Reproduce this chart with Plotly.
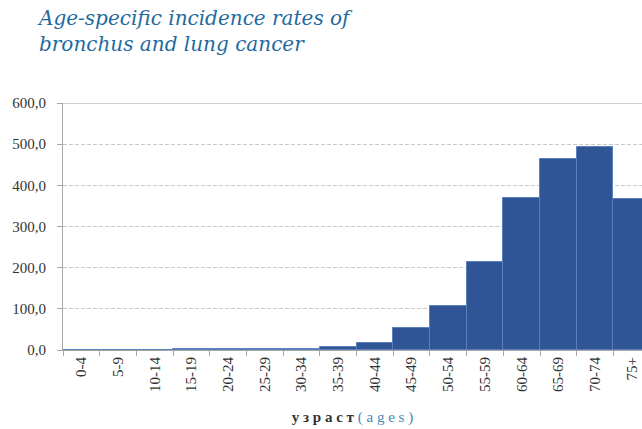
import plotly.graph_objects as go

categories = ["0-4", "5-9", "10-14", "15-19", "20-24", "25-29", "30-34", "35-39",
              "40-44", "45-49", "50-54", "55-59", "60-64", "65-69", "70-74", "75+"]
rates = [0.1, 0.1, 0.3, 2.0, 2.0, 2.2, 3.0, 6.5, 16.0, 53.0, 108.0, 213.0,
         370.0, 465.0, 494.0, 367.0]
y_ticks = [0, 100, 200, 300, 400, 500, 600]

fig = go.Figure()
fig.add_trace(go.Bar(
    x=categories, y=rates,
    marker=dict(color="#2F5597", line=dict(color="#5B80BD", width=1)),
    width=1.0,
))

fig.add_shape(type="line", xref="paper", x0=0, x1=1, yref="y",
              y0=max(y_ticks), y1=max(y_ticks), line=dict(color="#A6A6A6", width=1))

fig.add_annotation(
    text="Age-specific incidence rates of<br>bronchus and lung cancer",
    xref="paper", yref="paper", x=-0.048, y=1.0, yanchor="bottom", xanchor="left",
    yshift=45, align="left", showarrow=False,
    font=dict(family="DejaVu Serif", size=20, color="#1F6AA0", style="italic"),
)

fig.update_layout(
    width=642, height=429,
    margin=dict(l=63, r=0, t=103, b=79),
    paper_bgcolor="white", plot_bgcolor="white",
    separators=", ",
    showlegend=False,
    bargap=0,
    xaxis=dict(
        type="category", range=[-0.5, 15.28],
        tickson="boundaries", ticks="outside", ticklen=5, tickcolor="#A6A6A6",
        showline=True, linecolor="#A6A6A6", linewidth=1,
        tickangle=-90, ticklabeloverflow="allow",
        tickfont=dict(family="Liberation Serif", size=15, color="#333333"),
        title=dict(text="<b>у з р а с т</b> <span style='color:#4A86B8'>( a g e s )</span>",
                   font=dict(family="Liberation Serif", size=15, color="#333333"),
                   standoff=20),
        showgrid=False,
    ),
    yaxis=dict(
        range=[0, 600], tickvals=y_ticks, tickformat=".1f",
        ticks="outside", ticklen=5, tickcolor="#A6A6A6",
        showline=True, linecolor="#A6A6A6", linewidth=1,
        showgrid=True, gridcolor="#C8C8C8", griddash="4px,2px", gridwidth=1,
        tickfont=dict(family="Liberation Serif", size=15, color="#333333"),
        ticklabelstandoff=8,
        zeroline=False,
    ),
)

fig.write_html(
    "out.html",
    config={"displayModeBar": False},
    post_script="document.body.style.margin='0';document.body.style.overflow='hidden';",
)
